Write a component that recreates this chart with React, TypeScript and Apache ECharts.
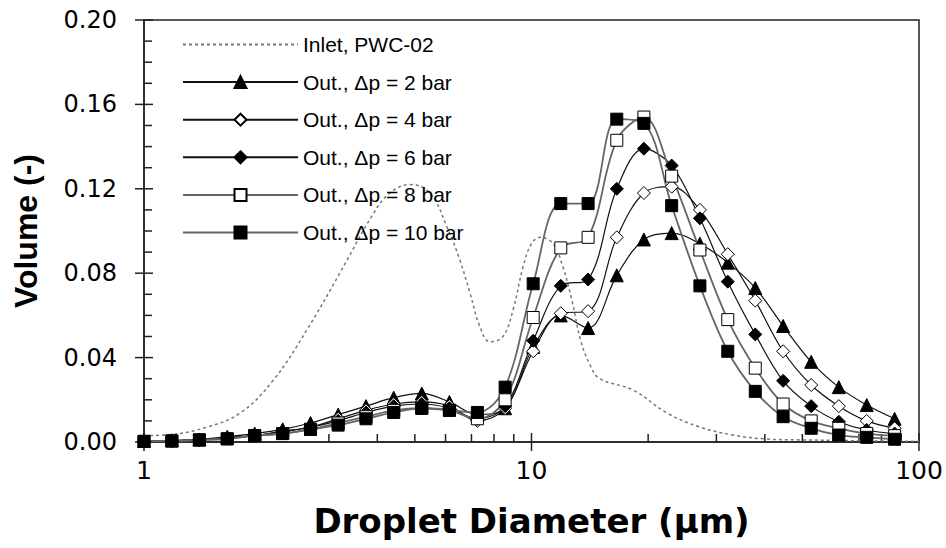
import React, { useEffect, useRef } from "react";
import * as echarts from "echarts";

// Droplet size classes (µm) of the outlet measurements
const diameters = [1.0, 1.18, 1.39, 1.64, 1.93, 2.28, 2.69, 3.17, 3.74, 4.41, 5.21, 6.14, 7.25, 8.55, 10.1, 11.9, 14.0, 16.6, 19.5, 23.0, 27.2, 32.1, 37.8, 44.6, 52.7, 62.1, 73.3, 86.5];

const out2bar = [0.0005, 0.0008, 0.0012, 0.0025, 0.004, 0.006, 0.009, 0.013, 0.017, 0.021, 0.023, 0.019, 0.013, 0.016, 0.045, 0.060, 0.054, 0.079, 0.096, 0.099, 0.094, 0.085, 0.073, 0.055, 0.038, 0.026, 0.0175, 0.011];
const out4bar = [0.0003, 0.0005, 0.001, 0.002, 0.003, 0.005, 0.007, 0.011, 0.015, 0.018, 0.019, 0.017, 0.010, 0.016, 0.043, 0.061, 0.062, 0.097, 0.118, 0.121, 0.110, 0.089, 0.067, 0.043, 0.027, 0.017, 0.010, 0.0065];
const out6bar = [0.0003, 0.0005, 0.001, 0.002, 0.003, 0.005, 0.007, 0.010, 0.014, 0.017, 0.018, 0.016, 0.011, 0.017, 0.048, 0.074, 0.077, 0.120, 0.139, 0.131, 0.106, 0.076, 0.051, 0.029, 0.017, 0.0096, 0.0057, 0.004];
const out8bar = [0.0003, 0.0005, 0.001, 0.0015, 0.003, 0.004, 0.006, 0.009, 0.012, 0.015, 0.016, 0.015, 0.011, 0.020, 0.059, 0.092, 0.097, 0.143, 0.154, 0.126, 0.091, 0.058, 0.035, 0.018, 0.010, 0.0065, 0.004, 0.003];
const out10bar = [0.0003, 0.0005, 0.001, 0.0015, 0.003, 0.004, 0.006, 0.008, 0.011, 0.014, 0.016, 0.015, 0.014, 0.026, 0.075, 0.113, 0.113, 0.153, 0.151, 0.112, 0.074, 0.043, 0.024, 0.012, 0.0065, 0.0033, 0.0022, 0.0013];

// Inlet distribution (PWC-02)
const inletDiameters = [1.0, 1.17, 1.45, 1.77, 2.15, 2.63, 3.2, 3.9, 4.31, 4.86, 5.47, 6.05, 6.54, 6.94, 7.36, 7.81, 8.44, 8.96, 9.51, 10.0, 10.52, 11.37, 12.05, 12.72, 13.4, 14.2, 15.0, 18.3, 22.4, 27.2, 33.1, 40.5, 49.3, 60, 75, 100];
const inletVolume = [0.003, 0.0035, 0.007, 0.0137, 0.029, 0.053, 0.080, 0.108, 0.118, 0.122, 0.118, 0.102, 0.086, 0.0705, 0.0547, 0.0475, 0.050, 0.0625, 0.083, 0.094, 0.097, 0.094, 0.083, 0.067, 0.048, 0.036, 0.030, 0.0246, 0.0137, 0.0071, 0.0033, 0.0014, 0.001, 0.0008, 0.0005, 0.0003];

const seriesNames = ["Inlet, PWC-02", "Out., \u0394p = 2 bar", "Out., \u0394p = 4 bar", "Out., \u0394p = 6 bar", "Out., \u0394p = 8 bar", "Out., \u0394p = 10 bar"];
const yTicks = [0, 0.04, 0.08, 0.12, 0.16, 0.2];
const yMinor = [0.01, 0.02, 0.03, 0.05, 0.06, 0.07, 0.09, 0.1, 0.11, 0.13, 0.14, 0.15, 0.17, 0.18, 0.19];
const xTicks = [1, 10, 100];
const xMinor = [2, 3, 4, 5, 6, 7, 8, 9, 20, 30, 40, 50, 60, 70, 80, 90];

const FONT = "Liberation Sans, Arial, sans-serif";
const WIDE = "DejaVu Sans, Verdana, sans-serif";

export default function App() {
  const ref = useRef<HTMLDivElement>(null);
  useEffect(() => {
    if (!ref.current) return;
    const chart = echarts.init(ref.current, undefined, { renderer: "svg" });
    const pairs = (ys: number[]) => diameters.map((d, i) => [d, ys[i]]);
    const outSeries = (name: string, ys: number[], symbol: string, size: number, filled: boolean, lineColor: string, lineWidth: number) => ({
      name,
      type: "line",
      data: pairs(ys),
      smooth: 0.35,
      symbol,
      symbolSize: size,
      showSymbol: true,
      lineStyle: { color: lineColor, width: lineWidth },
      itemStyle: { color: filled ? "#000" : "#fff", borderColor: "#000", borderWidth: 1 },
      emphasis: { disabled: true },
      z: 3,
    });
    const option: any = {
      animation: false,
      backgroundColor: "#fff",
      grid: { left: 144, right: 27, top: 20, bottom: 106, show: true, borderColor: "#222", borderWidth: 1.5, backgroundColor: "transparent" },
      legend: {
        orient: "vertical",
        left: 182,
        top: 34,
        padding: 0,
        itemWidth: 115,
        itemHeight: 15,
        itemGap: 16.6,
        textStyle: { fontFamily: FONT, fontSize: 21, color: "#000", lineHeight: 20 },
        data: [{ name: seriesNames[0], itemStyle: { opacity: 0 } }, ...seriesNames.slice(1)],
      },
      xAxis: {
        type: "log",
        logBase: 10,
        min: 1,
        max: 100,
        axisLine: { show: true, lineStyle: { color: "#222", width: 1.5 } },
        axisTick: { show: false },
        minorTick: { show: false },
        splitLine: { show: false },
        axisLabel: { fontFamily: WIDE, fontSize: 25, color: "#000", margin: 16 },
        name: "Droplet Diameter (\u00b5m)",
        nameLocation: "middle",
        nameGap: 62,
        nameTextStyle: { fontFamily: WIDE, fontSize: 34, fontWeight: "bold", color: "#000" },
      },
      yAxis: {
        type: "value",
        min: 0,
        max: 0.2,
        interval: 0.04,
        axisLine: { show: true, lineStyle: { color: "#222", width: 1.5 } },
        axisTick: { show: false },
        splitLine: { show: false },
        axisLabel: { fontFamily: WIDE, fontSize: 24, color: "#000", margin: 27, formatter: (v: number) => v.toFixed(2) },
        name: "Volume (-)",
        nameLocation: "middle",
        nameGap: 102,
        nameTextStyle: { fontFamily: FONT, fontSize: 32, fontWeight: "bold", color: "#000" },
      },
      series: [
        {
          name: seriesNames[0],
          type: "line",
          data: inletDiameters.map((d, i) => [d, inletVolume[i]]),
          smooth: 0.4,
          symbol: "none",
          lineStyle: { color: "#777", width: 1.5, type: [3, 3] },
          itemStyle: { color: "rgba(0,0,0,0)" },
          emphasis: { disabled: true },
          z: 2,
        },
        outSeries(seriesNames[1], out2bar, "triangle", 13, true, "#111", 1.2),
        outSeries(seriesNames[2], out4bar, "diamond", 13, false, "#111", 1.2),
        outSeries(seriesNames[3], out6bar, "diamond", 13, true, "#111", 1.2),
        outSeries(seriesNames[4], out8bar, "rect", 12, false, "#666", 1.8),
        outSeries(seriesNames[5], out10bar, "rect", 12, true, "#666", 1.8),
      ],
    };
    chart.setOption(option);

    const g: any[] = [];
    const x0 = chart.convertToPixel({ xAxisIndex: 0 }, 1) as number;
    const y0 = chart.convertToPixel({ yAxisIndex: 0 }, 0) as number;
    const tickStyle = { stroke: "#222", lineWidth: 1.5 };
    yTicks.forEach((v) => {
      const y = chart.convertToPixel({ yAxisIndex: 0 }, v) as number;
      g.push({ type: "line", shape: { x1: x0 - 9, y1: y, x2: x0 + 9, y2: y }, style: tickStyle, silent: true });
    });
    yMinor.forEach((v) => {
      const y = chart.convertToPixel({ yAxisIndex: 0 }, v) as number;
      g.push({ type: "line", shape: { x1: x0, y1: y, x2: x0 + 8, y2: y }, style: tickStyle, silent: true });
    });
    xTicks.forEach((v) => {
      const x = chart.convertToPixel({ xAxisIndex: 0 }, v) as number;
      g.push({ type: "line", shape: { x1: x, y1: y0 - 9, x2: x, y2: y0 + 9 }, style: tickStyle, silent: true });
    });
    xMinor.forEach((v) => {
      const x = chart.convertToPixel({ xAxisIndex: 0 }, v) as number;
      g.push({ type: "line", shape: { x1: x, y1: y0 - 8, x2: x, y2: y0 }, style: tickStyle, silent: true });
    });
    chart.setOption({ graphic: g });

    return () => chart.dispose();
  }, []);
  return <div ref={ref} style={{ position: "absolute", left: 0, top: 0, width: 946, height: 548 }} />;
}
